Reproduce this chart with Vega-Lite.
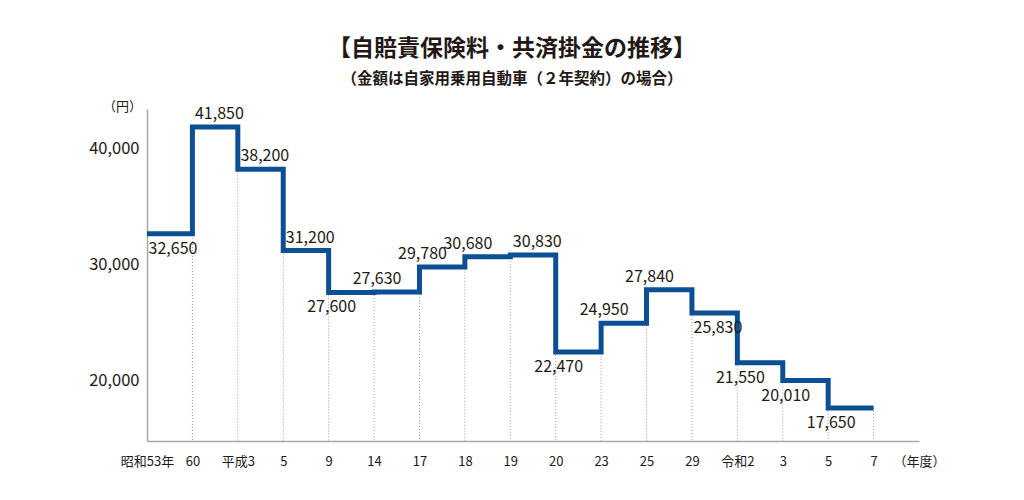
{
  "$schema": "https://vega.github.io/schema/vega-lite/v6.json",
  "autosize": {"type": "none"},
  "padding": {"left": 147, "top": 109, "right": 105, "bottom": 59},
  "width": 772,
  "height": 332,
  "background": "white",
  "title": {
    "text": "【自賠責保険料・共済掛金の推移】",
    "subtitle": "（金額は自家用乗用自動車（２年契約）の場合）",
    "font": "Noto Sans CJK JP",
    "fontSize": 23,
    "fontWeight": "bold",
    "color": "#231815",
    "subtitleFont": "Noto Sans CJK JP",
    "subtitleFontSize": 15.5,
    "subtitleFontWeight": "bold",
    "subtitleColor": "#231815",
    "subtitlePadding": 11,
    "anchor": "middle",
    "frame": "group",
    "dx": -21,
    "offset": 13
  },
  "data": {
    "values": [
      {"year": "昭和53", "value": 32650},
      {"year": "昭和60", "value": 41850},
      {"year": "平成3", "value": 38200},
      {"year": "平成5", "value": 31200},
      {"year": "平成9", "value": 27600},
      {"year": "平成14", "value": 27630},
      {"year": "平成17", "value": 29780},
      {"year": "平成18", "value": 30680},
      {"year": "平成19", "value": 30830},
      {"year": "平成20", "value": 22470},
      {"year": "平成23", "value": 24950},
      {"year": "平成25", "value": 27840},
      {"year": "平成29", "value": 25830},
      {"year": "令和2", "value": 21550},
      {"year": "令和3", "value": 20010},
      {"year": "令和5", "value": 17650},
      {"year": "令和7", "value": 17650}
    ]
  },
  "encoding": {
    "x": {
      "field": "year",
      "type": "ordinal",
      "scale": {
        "type": "point",
        "padding": 0,
        "domain": ["昭和53", "昭和60", "平成3", "平成5", "平成9", "平成14", "平成17", "平成18", "平成19", "平成20", "平成23", "平成25", "平成29", "令和2", "令和3", "令和5", "令和7", "（年度）"]
      },
      "axis": {
        "title": null,
        "labelAngle": 0,
        "ticks": false,
        "domainColor": "#a8a8a8",
        "domainWidth": 1.5,
        "labelPadding": 14,
        "labelFont": "Noto Sans CJK JP",
        "labelFontSize": 13,
        "labelColor": "#231815",
        "labelExpr": "datum.value == '昭和53' ? '昭和53年' : (datum.value == '平成3' || datum.value == '令和2' || datum.value == '（年度）') ? datum.value : substring(datum.value, 2)"
      }
    },
    "y": {
      "field": "value",
      "type": "quantitative",
      "scale": {"domain": [14800, 43400], "nice": false, "zero": false},
      "axis": {
        "values": [20000, 30000, 40000],
        "format": ",d",
        "grid": false,
        "ticks": false,
        "domainColor": "#a8a8a8",
        "domainWidth": 1.5,
        "labelPadding": 8,
        "labelFont": "Noto Sans CJK JP",
        "labelFontSize": 16.5,
        "labelColor": "#231815",
        "title": "（円）",
        "titleFont": "Noto Sans CJK JP",
        "titleFontSize": 13,
        "titleFontWeight": "normal",
        "titleColor": "#231815",
        "titleAngle": 0,
        "titleAlign": "center",
        "titleBaseline": "middle",
        "titleX": -25,
        "titleY": -3
      }
    }
  },
  "layer": [
    {
      "transform": [{"filter": "datum.year != '昭和53'"}],
      "mark": {"type": "rule", "color": "#9a9a9a", "strokeWidth": 1, "strokeDash": [1, 2]},
      "encoding": {
        "y2": {"datum": 14800}
      }
    },
    {
      "mark": {
        "type": "line",
        "interpolate": "step-after",
        "color": "#0d4f94",
        "strokeWidth": 5,
        "strokeJoin": "miter",
        "strokeCap": "butt"
      }
    },
    {
      "transform": [{"filter": {"field": "year", "oneOf": ["平成14", "平成17", "平成18", "平成23", "平成25"]}}],
      "mark": {"type": "text", "font": "Noto Sans CJK JP", "fontSize": 16, "color": "#231815", "baseline": "middle", "align": "center", "xOffset": 3, "yOffset": -13},
      "encoding": {"text": {"field": "value", "type": "quantitative", "format": ",d"}}
    },
    {
      "transform": [{"filter": {"field": "year", "oneOf": ["昭和60", "平成3", "平成5", "平成19"]}}],
      "mark": {"type": "text", "font": "Noto Sans CJK JP", "fontSize": 16, "color": "#231815", "baseline": "middle", "align": "center", "xOffset": 27, "yOffset": -13},
      "encoding": {"text": {"field": "value", "type": "quantitative", "format": ",d"}}
    },
    {
      "transform": [{"filter": {"field": "year", "oneOf": ["平成9", "平成20", "令和2", "令和3", "令和5"]}}],
      "mark": {"type": "text", "font": "Noto Sans CJK JP", "fontSize": 16, "color": "#231815", "baseline": "middle", "align": "center", "xOffset": 3, "yOffset": 15},
      "encoding": {"text": {"field": "value", "type": "quantitative", "format": ",d"}}
    },
    {
      "transform": [{"filter": {"field": "year", "oneOf": ["昭和53", "平成29"]}}],
      "mark": {"type": "text", "font": "Noto Sans CJK JP", "fontSize": 16, "color": "#231815", "baseline": "middle", "align": "center", "xOffset": 26, "yOffset": 15},
      "encoding": {"text": {"field": "value", "type": "quantitative", "format": ",d"}}
    }
  ],
  "config": {
    "view": {"stroke": null}
  }
}
